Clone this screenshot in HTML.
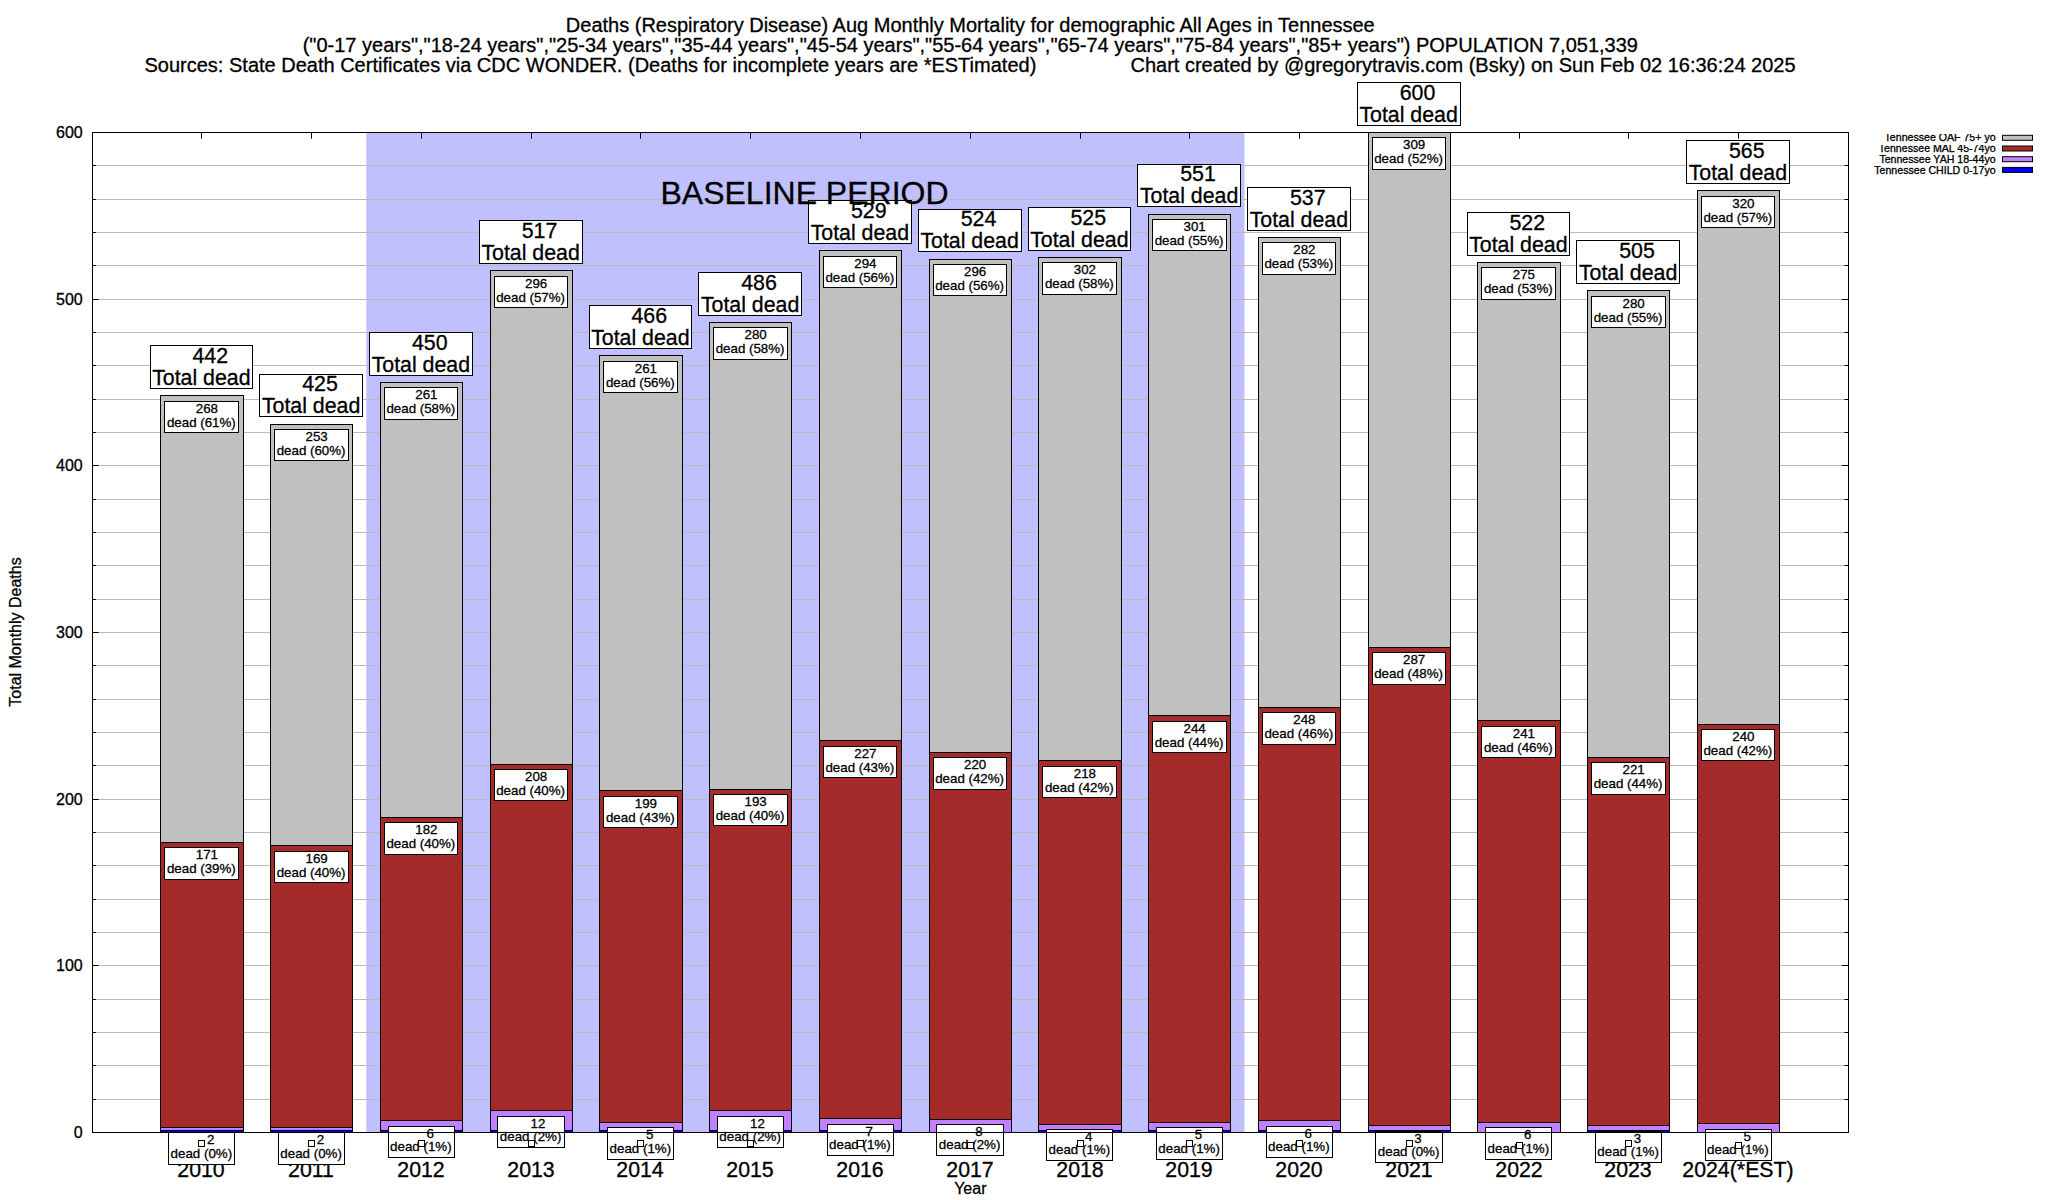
<!DOCTYPE html>
<html lang="en"><head><meta charset="utf-8"><title>Deaths (Respiratory Disease) Aug Monthly Mortality - Tennessee</title>
<style>html,body{margin:0;padding:0;background:#fff;}body{width:2048px;height:1200px;overflow:hidden;}svg{display:block;}text{font-family:"Liberation Sans", Arial, Helvetica, sans-serif;fill:#000;white-space:pre;stroke:#000;stroke-width:0.3px;}</style>
</head><body>
<svg width="2048" height="1200" viewBox="0 0 2048 1200" xml:space="preserve">
<rect x="0" y="0" width="2048" height="1200" fill="#fff"/>
<g font-size="20">
<text x="970.3" y="31.6" text-anchor="middle">Deaths (Respiratory Disease) Aug Monthly Mortality for demographic All Ages in Tennessee</text>
<text x="970.3" y="51.9" text-anchor="middle">("0-17 years","18-24 years","25-34 years","35-44 years","45-54 years","55-64 years","65-74 years","75-84 years","85+ years") POPULATION 7,051,339</text>
<text x="144.5" y="71.9">Sources: State Death Certificates via CDC WONDER. (Deaths for incomplete years are *ESTimated)</text>
<text x="1795.6" y="71.9" text-anchor="end">Chart created by @gregorytravis.com (Bsky) on Sun Feb 02 16:36:24 2025</text>
</g>
<rect x="366.3" y="132.5" width="878.2" height="1000" fill="#c0c0ff"/>
<g stroke="#bbbbbb" stroke-width="1">
<line x1="92.5" y1="1099.5" x2="1848.5" y2="1099.5"/>
<line x1="92.5" y1="1065.5" x2="1848.5" y2="1065.5"/>
<line x1="92.5" y1="1032.5" x2="1848.5" y2="1032.5"/>
<line x1="92.5" y1="999.5" x2="1848.5" y2="999.5"/>
<line x1="92.5" y1="965.5" x2="1848.5" y2="965.5"/>
<line x1="92.5" y1="932.5" x2="1848.5" y2="932.5"/>
<line x1="92.5" y1="899.5" x2="1848.5" y2="899.5"/>
<line x1="92.5" y1="865.5" x2="1848.5" y2="865.5"/>
<line x1="92.5" y1="832.5" x2="1848.5" y2="832.5"/>
<line x1="92.5" y1="799.5" x2="1848.5" y2="799.5"/>
<line x1="92.5" y1="765.5" x2="1848.5" y2="765.5"/>
<line x1="92.5" y1="732.5" x2="1848.5" y2="732.5"/>
<line x1="92.5" y1="699.5" x2="1848.5" y2="699.5"/>
<line x1="92.5" y1="665.5" x2="1848.5" y2="665.5"/>
<line x1="92.5" y1="632.5" x2="1848.5" y2="632.5"/>
<line x1="92.5" y1="599.5" x2="1848.5" y2="599.5"/>
<line x1="92.5" y1="565.5" x2="1848.5" y2="565.5"/>
<line x1="92.5" y1="532.5" x2="1848.5" y2="532.5"/>
<line x1="92.5" y1="499.5" x2="1848.5" y2="499.5"/>
<line x1="92.5" y1="465.5" x2="1848.5" y2="465.5"/>
<line x1="92.5" y1="432.5" x2="1848.5" y2="432.5"/>
<line x1="92.5" y1="399.5" x2="1848.5" y2="399.5"/>
<line x1="92.5" y1="365.5" x2="1848.5" y2="365.5"/>
<line x1="92.5" y1="332.5" x2="1848.5" y2="332.5"/>
<line x1="92.5" y1="299.5" x2="1848.5" y2="299.5"/>
<line x1="92.5" y1="265.5" x2="1848.5" y2="265.5"/>
<line x1="92.5" y1="232.5" x2="1848.5" y2="232.5"/>
<line x1="92.5" y1="199.5" x2="1848.5" y2="199.5"/>
<line x1="92.5" y1="165.5" x2="1848.5" y2="165.5"/>
</g>
<g stroke="#000" stroke-width="1" fill="none">
<line x1="92.5" y1="1099.5" x2="95.9" y2="1099.5"/>
<line x1="1848.5" y1="1099.5" x2="1844.5" y2="1099.5"/>
<line x1="92.5" y1="1065.5" x2="95.9" y2="1065.5"/>
<line x1="1848.5" y1="1065.5" x2="1844.5" y2="1065.5"/>
<line x1="92.5" y1="1032.5" x2="95.9" y2="1032.5"/>
<line x1="1848.5" y1="1032.5" x2="1844.5" y2="1032.5"/>
<line x1="92.5" y1="999.5" x2="95.9" y2="999.5"/>
<line x1="1848.5" y1="999.5" x2="1844.5" y2="999.5"/>
<line x1="92.5" y1="965.5" x2="98.7" y2="965.5"/>
<line x1="1848.5" y1="965.5" x2="1841.7" y2="965.5"/>
<line x1="92.5" y1="932.5" x2="95.9" y2="932.5"/>
<line x1="1848.5" y1="932.5" x2="1844.5" y2="932.5"/>
<line x1="92.5" y1="899.5" x2="95.9" y2="899.5"/>
<line x1="1848.5" y1="899.5" x2="1844.5" y2="899.5"/>
<line x1="92.5" y1="865.5" x2="95.9" y2="865.5"/>
<line x1="1848.5" y1="865.5" x2="1844.5" y2="865.5"/>
<line x1="92.5" y1="832.5" x2="95.9" y2="832.5"/>
<line x1="1848.5" y1="832.5" x2="1844.5" y2="832.5"/>
<line x1="92.5" y1="799.5" x2="98.7" y2="799.5"/>
<line x1="1848.5" y1="799.5" x2="1841.7" y2="799.5"/>
<line x1="92.5" y1="765.5" x2="95.9" y2="765.5"/>
<line x1="1848.5" y1="765.5" x2="1844.5" y2="765.5"/>
<line x1="92.5" y1="732.5" x2="95.9" y2="732.5"/>
<line x1="1848.5" y1="732.5" x2="1844.5" y2="732.5"/>
<line x1="92.5" y1="699.5" x2="95.9" y2="699.5"/>
<line x1="1848.5" y1="699.5" x2="1844.5" y2="699.5"/>
<line x1="92.5" y1="665.5" x2="95.9" y2="665.5"/>
<line x1="1848.5" y1="665.5" x2="1844.5" y2="665.5"/>
<line x1="92.5" y1="632.5" x2="98.7" y2="632.5"/>
<line x1="1848.5" y1="632.5" x2="1841.7" y2="632.5"/>
<line x1="92.5" y1="599.5" x2="95.9" y2="599.5"/>
<line x1="1848.5" y1="599.5" x2="1844.5" y2="599.5"/>
<line x1="92.5" y1="565.5" x2="95.9" y2="565.5"/>
<line x1="1848.5" y1="565.5" x2="1844.5" y2="565.5"/>
<line x1="92.5" y1="532.5" x2="95.9" y2="532.5"/>
<line x1="1848.5" y1="532.5" x2="1844.5" y2="532.5"/>
<line x1="92.5" y1="499.5" x2="95.9" y2="499.5"/>
<line x1="1848.5" y1="499.5" x2="1844.5" y2="499.5"/>
<line x1="92.5" y1="465.5" x2="98.7" y2="465.5"/>
<line x1="1848.5" y1="465.5" x2="1841.7" y2="465.5"/>
<line x1="92.5" y1="432.5" x2="95.9" y2="432.5"/>
<line x1="1848.5" y1="432.5" x2="1844.5" y2="432.5"/>
<line x1="92.5" y1="399.5" x2="95.9" y2="399.5"/>
<line x1="1848.5" y1="399.5" x2="1844.5" y2="399.5"/>
<line x1="92.5" y1="365.5" x2="95.9" y2="365.5"/>
<line x1="1848.5" y1="365.5" x2="1844.5" y2="365.5"/>
<line x1="92.5" y1="332.5" x2="95.9" y2="332.5"/>
<line x1="1848.5" y1="332.5" x2="1844.5" y2="332.5"/>
<line x1="92.5" y1="299.5" x2="98.7" y2="299.5"/>
<line x1="1848.5" y1="299.5" x2="1841.7" y2="299.5"/>
<line x1="92.5" y1="265.5" x2="95.9" y2="265.5"/>
<line x1="1848.5" y1="265.5" x2="1844.5" y2="265.5"/>
<line x1="92.5" y1="232.5" x2="95.9" y2="232.5"/>
<line x1="1848.5" y1="232.5" x2="1844.5" y2="232.5"/>
<line x1="92.5" y1="199.5" x2="95.9" y2="199.5"/>
<line x1="1848.5" y1="199.5" x2="1844.5" y2="199.5"/>
<line x1="92.5" y1="165.5" x2="95.9" y2="165.5"/>
<line x1="1848.5" y1="165.5" x2="1844.5" y2="165.5"/>
<line x1="201.5" y1="132.5" x2="201.5" y2="138.7"/>
<line x1="311.5" y1="132.5" x2="311.5" y2="138.7"/>
<line x1="421.5" y1="132.5" x2="421.5" y2="138.7"/>
<line x1="531.5" y1="132.5" x2="531.5" y2="138.7"/>
<line x1="640.5" y1="132.5" x2="640.5" y2="138.7"/>
<line x1="750.5" y1="132.5" x2="750.5" y2="138.7"/>
<line x1="860.5" y1="132.5" x2="860.5" y2="138.7"/>
<line x1="970.5" y1="132.5" x2="970.5" y2="138.7"/>
<line x1="1080.5" y1="132.5" x2="1080.5" y2="138.7"/>
<line x1="1189.5" y1="132.5" x2="1189.5" y2="138.7"/>
<line x1="1299.5" y1="132.5" x2="1299.5" y2="138.7"/>
<line x1="1409.5" y1="132.5" x2="1409.5" y2="138.7"/>
<line x1="1519.5" y1="132.5" x2="1519.5" y2="138.7"/>
<line x1="1628.5" y1="132.5" x2="1628.5" y2="138.7"/>
<line x1="1738.5" y1="132.5" x2="1738.5" y2="138.7"/>
</g>
<g font-size="16" text-anchor="end">
<text x="82.7" y="1138.2">0</text>
<text x="82.7" y="971.2">100</text>
<text x="82.7" y="805.2">200</text>
<text x="82.7" y="638.2">300</text>
<text x="82.7" y="471.2">400</text>
<text x="82.7" y="305.2">500</text>
<text x="82.7" y="138.2">600</text>
</g>
<g font-size="21.33" text-anchor="middle">
<text x="201" y="1177.1">2010</text>
<text x="311" y="1177.1">2011</text>
<text x="421" y="1177.1">2012</text>
<text x="531" y="1177.1">2013</text>
<text x="640" y="1177.1">2014</text>
<text x="750" y="1177.1">2015</text>
<text x="860" y="1177.1">2016</text>
<text x="970" y="1177.1">2017</text>
<text x="1080" y="1177.1">2018</text>
<text x="1189" y="1177.1">2019</text>
<text x="1299" y="1177.1">2020</text>
<text x="1409" y="1177.1">2021</text>
<text x="1519" y="1177.1">2022</text>
<text x="1628" y="1177.1">2023</text>
<text x="1738" y="1177.1">2024(*EST)</text>
</g>
<g stroke="#000" stroke-width="1">
<rect x="160.5" y="1130.5" width="83" height="2" fill="#0000ff"/>
<rect x="160.5" y="1127.5" width="83" height="3" fill="#c080ff"/>
<rect x="160.5" y="842.5" width="83" height="285" fill="#a52a2a"/>
<rect x="160.5" y="395.5" width="83" height="447" fill="#c0c0c0"/>
<rect x="270.5" y="1130.5" width="82" height="2" fill="#0000ff"/>
<rect x="270.5" y="1127.5" width="82" height="3" fill="#c080ff"/>
<rect x="270.5" y="845.5" width="82" height="282" fill="#a52a2a"/>
<rect x="270.5" y="424.5" width="82" height="421" fill="#c0c0c0"/>
<rect x="380.5" y="1130.5" width="82" height="2" fill="#0000ff"/>
<rect x="380.5" y="1120.5" width="82" height="10" fill="#c080ff"/>
<rect x="380.5" y="817.5" width="82" height="303" fill="#a52a2a"/>
<rect x="380.5" y="382.5" width="82" height="435" fill="#c0c0c0"/>
<rect x="490.5" y="1130.5" width="82" height="2" fill="#0000ff"/>
<rect x="490.5" y="1110.5" width="82" height="20" fill="#c080ff"/>
<rect x="490.5" y="764.5" width="82" height="346" fill="#a52a2a"/>
<rect x="490.5" y="270.5" width="82" height="494" fill="#c0c0c0"/>
<rect x="599.5" y="1130.5" width="83" height="2" fill="#0000ff"/>
<rect x="599.5" y="1122.5" width="83" height="8" fill="#c080ff"/>
<rect x="599.5" y="790.5" width="83" height="332" fill="#a52a2a"/>
<rect x="599.5" y="355.5" width="83" height="435" fill="#c0c0c0"/>
<rect x="709.5" y="1130.5" width="82" height="2" fill="#0000ff"/>
<rect x="709.5" y="1110.5" width="82" height="20" fill="#c080ff"/>
<rect x="709.5" y="789.5" width="82" height="321" fill="#a52a2a"/>
<rect x="709.5" y="322.5" width="82" height="467" fill="#c0c0c0"/>
<rect x="819.5" y="1130.5" width="82" height="2" fill="#0000ff"/>
<rect x="819.5" y="1118.5" width="82" height="12" fill="#c080ff"/>
<rect x="819.5" y="740.5" width="82" height="378" fill="#a52a2a"/>
<rect x="819.5" y="250.5" width="82" height="490" fill="#c0c0c0"/>
<rect x="929.5" y="1119.5" width="82" height="13" fill="#c080ff"/>
<rect x="929.5" y="752.5" width="82" height="367" fill="#a52a2a"/>
<rect x="929.5" y="259.5" width="82" height="493" fill="#c0c0c0"/>
<rect x="1038.5" y="1130.5" width="83" height="2" fill="#0000ff"/>
<rect x="1038.5" y="1124.5" width="83" height="6" fill="#c080ff"/>
<rect x="1038.5" y="760.5" width="83" height="364" fill="#a52a2a"/>
<rect x="1038.5" y="257.5" width="83" height="503" fill="#c0c0c0"/>
<rect x="1148.5" y="1130.5" width="82" height="2" fill="#0000ff"/>
<rect x="1148.5" y="1122.5" width="82" height="8" fill="#c080ff"/>
<rect x="1148.5" y="715.5" width="82" height="407" fill="#a52a2a"/>
<rect x="1148.5" y="214.5" width="82" height="501" fill="#c0c0c0"/>
<rect x="1258.5" y="1130.5" width="82" height="2" fill="#0000ff"/>
<rect x="1258.5" y="1120.5" width="82" height="10" fill="#c080ff"/>
<rect x="1258.5" y="707.5" width="82" height="413" fill="#a52a2a"/>
<rect x="1258.5" y="237.5" width="82" height="470" fill="#c0c0c0"/>
<rect x="1368.5" y="1130.5" width="82" height="2" fill="#0000ff"/>
<rect x="1368.5" y="1125.5" width="82" height="5" fill="#c080ff"/>
<rect x="1368.5" y="647.5" width="82" height="478" fill="#a52a2a"/>
<rect x="1368.5" y="132.5" width="82" height="515" fill="#c0c0c0"/>
<rect x="1477.5" y="1122.5" width="83" height="10" fill="#c080ff"/>
<rect x="1477.5" y="720.5" width="83" height="402" fill="#a52a2a"/>
<rect x="1477.5" y="262.5" width="83" height="458" fill="#c0c0c0"/>
<rect x="1587.5" y="1130.5" width="82" height="2" fill="#0000ff"/>
<rect x="1587.5" y="1125.5" width="82" height="5" fill="#c080ff"/>
<rect x="1587.5" y="757.5" width="82" height="368" fill="#a52a2a"/>
<rect x="1587.5" y="290.5" width="82" height="467" fill="#c0c0c0"/>
<rect x="1697.5" y="1123.5" width="82" height="9" fill="#c080ff"/>
<rect x="1697.5" y="724.5" width="82" height="399" fill="#a52a2a"/>
<rect x="1697.5" y="190.5" width="82" height="534" fill="#c0c0c0"/>
</g>
<rect x="164.5" y="401.5" width="74" height="31" fill="#fff" stroke="#000" stroke-width="1"/>
<text x="201.35" y="412.7" font-size="13.33" text-anchor="middle">   268</text>
<text x="201.35" y="426.6" font-size="13.33" text-anchor="middle">dead (61%)</text>
<rect x="274.5" y="429.5" width="74" height="31" fill="#fff" stroke="#000" stroke-width="1"/>
<text x="311.1" y="440.7" font-size="13.33" text-anchor="middle">   253</text>
<text x="311.1" y="454.6" font-size="13.33" text-anchor="middle">dead (60%)</text>
<rect x="384.5" y="387.5" width="73" height="32" fill="#fff" stroke="#000" stroke-width="1"/>
<text x="420.85" y="399.2" font-size="13.33" text-anchor="middle">   261</text>
<text x="420.85" y="413.1" font-size="13.33" text-anchor="middle">dead (58%)</text>
<rect x="494.5" y="276.5" width="73" height="31" fill="#fff" stroke="#000" stroke-width="1"/>
<text x="530.6" y="287.7" font-size="13.33" text-anchor="middle">   296</text>
<text x="530.6" y="301.6" font-size="13.33" text-anchor="middle">dead (57%)</text>
<rect x="603.5" y="361.5" width="74" height="31" fill="#fff" stroke="#000" stroke-width="1"/>
<text x="640.35" y="372.7" font-size="13.33" text-anchor="middle">   261</text>
<text x="640.35" y="386.6" font-size="13.33" text-anchor="middle">dead (56%)</text>
<rect x="713.5" y="327.5" width="74" height="32" fill="#fff" stroke="#000" stroke-width="1"/>
<text x="750.1" y="339.2" font-size="13.33" text-anchor="middle">   280</text>
<text x="750.1" y="353.1" font-size="13.33" text-anchor="middle">dead (58%)</text>
<rect x="823.5" y="256.5" width="73" height="31" fill="#fff" stroke="#000" stroke-width="1"/>
<text x="859.85" y="267.7" font-size="13.33" text-anchor="middle">   294</text>
<text x="859.85" y="281.6" font-size="13.33" text-anchor="middle">dead (56%)</text>
<rect x="933.5" y="264.5" width="73" height="31" fill="#fff" stroke="#000" stroke-width="1"/>
<text x="969.6" y="275.7" font-size="13.33" text-anchor="middle">   296</text>
<text x="969.6" y="289.6" font-size="13.33" text-anchor="middle">dead (56%)</text>
<rect x="1042.5" y="262.5" width="74" height="32" fill="#fff" stroke="#000" stroke-width="1"/>
<text x="1079.35" y="274.2" font-size="13.33" text-anchor="middle">   302</text>
<text x="1079.35" y="288.1" font-size="13.33" text-anchor="middle">dead (58%)</text>
<rect x="1152.5" y="219.5" width="74" height="31" fill="#fff" stroke="#000" stroke-width="1"/>
<text x="1189.1" y="230.7" font-size="13.33" text-anchor="middle">   301</text>
<text x="1189.1" y="244.6" font-size="13.33" text-anchor="middle">dead (55%)</text>
<rect x="1262.5" y="242.5" width="73" height="32" fill="#fff" stroke="#000" stroke-width="1"/>
<text x="1298.85" y="254.2" font-size="13.33" text-anchor="middle">   282</text>
<text x="1298.85" y="268.1" font-size="13.33" text-anchor="middle">dead (53%)</text>
<rect x="1372.5" y="137.5" width="73" height="32" fill="#fff" stroke="#000" stroke-width="1"/>
<text x="1408.6" y="149.2" font-size="13.33" text-anchor="middle">   309</text>
<text x="1408.6" y="163.1" font-size="13.33" text-anchor="middle">dead (52%)</text>
<rect x="1481.5" y="267.5" width="74" height="32" fill="#fff" stroke="#000" stroke-width="1"/>
<text x="1518.35" y="279.2" font-size="13.33" text-anchor="middle">   275</text>
<text x="1518.35" y="293.1" font-size="13.33" text-anchor="middle">dead (53%)</text>
<rect x="1591.5" y="296.5" width="74" height="31" fill="#fff" stroke="#000" stroke-width="1"/>
<text x="1628.1" y="307.7" font-size="13.33" text-anchor="middle">   280</text>
<text x="1628.1" y="321.6" font-size="13.33" text-anchor="middle">dead (55%)</text>
<rect x="1701.5" y="196.5" width="73" height="31" fill="#fff" stroke="#000" stroke-width="1"/>
<text x="1737.85" y="207.7" font-size="13.33" text-anchor="middle">   320</text>
<text x="1737.85" y="221.6" font-size="13.33" text-anchor="middle">dead (57%)</text>
<rect x="164.5" y="847.5" width="74" height="32" fill="#fff" stroke="#000" stroke-width="1"/>
<text x="201.35" y="859.2" font-size="13.33" text-anchor="middle">   171</text>
<text x="201.35" y="873.1" font-size="13.33" text-anchor="middle">dead (39%)</text>
<rect x="274.5" y="851.5" width="74" height="31" fill="#fff" stroke="#000" stroke-width="1"/>
<text x="311.1" y="862.7" font-size="13.33" text-anchor="middle">   169</text>
<text x="311.1" y="876.6" font-size="13.33" text-anchor="middle">dead (40%)</text>
<rect x="384.5" y="822.5" width="73" height="32" fill="#fff" stroke="#000" stroke-width="1"/>
<text x="420.85" y="834.2" font-size="13.33" text-anchor="middle">   182</text>
<text x="420.85" y="848.1" font-size="13.33" text-anchor="middle">dead (40%)</text>
<rect x="494.5" y="769.5" width="73" height="31" fill="#fff" stroke="#000" stroke-width="1"/>
<text x="530.6" y="780.7" font-size="13.33" text-anchor="middle">   208</text>
<text x="530.6" y="794.6" font-size="13.33" text-anchor="middle">dead (40%)</text>
<rect x="603.5" y="796.5" width="74" height="31" fill="#fff" stroke="#000" stroke-width="1"/>
<text x="640.35" y="807.7" font-size="13.33" text-anchor="middle">   199</text>
<text x="640.35" y="821.6" font-size="13.33" text-anchor="middle">dead (43%)</text>
<rect x="713.5" y="794.5" width="74" height="31" fill="#fff" stroke="#000" stroke-width="1"/>
<text x="750.1" y="805.7" font-size="13.33" text-anchor="middle">   193</text>
<text x="750.1" y="819.6" font-size="13.33" text-anchor="middle">dead (40%)</text>
<rect x="823.5" y="746.5" width="73" height="31" fill="#fff" stroke="#000" stroke-width="1"/>
<text x="859.85" y="757.7" font-size="13.33" text-anchor="middle">   227</text>
<text x="859.85" y="771.6" font-size="13.33" text-anchor="middle">dead (43%)</text>
<rect x="933.5" y="757.5" width="73" height="32" fill="#fff" stroke="#000" stroke-width="1"/>
<text x="969.6" y="769.2" font-size="13.33" text-anchor="middle">   220</text>
<text x="969.6" y="783.1" font-size="13.33" text-anchor="middle">dead (42%)</text>
<rect x="1042.5" y="766.5" width="74" height="31" fill="#fff" stroke="#000" stroke-width="1"/>
<text x="1079.35" y="777.7" font-size="13.33" text-anchor="middle">   218</text>
<text x="1079.35" y="791.6" font-size="13.33" text-anchor="middle">dead (42%)</text>
<rect x="1152.5" y="721.5" width="74" height="31" fill="#fff" stroke="#000" stroke-width="1"/>
<text x="1189.1" y="732.7" font-size="13.33" text-anchor="middle">   244</text>
<text x="1189.1" y="746.6" font-size="13.33" text-anchor="middle">dead (44%)</text>
<rect x="1262.5" y="712.5" width="73" height="32" fill="#fff" stroke="#000" stroke-width="1"/>
<text x="1298.85" y="724.2" font-size="13.33" text-anchor="middle">   248</text>
<text x="1298.85" y="738.1" font-size="13.33" text-anchor="middle">dead (46%)</text>
<rect x="1372.5" y="652.5" width="73" height="32" fill="#fff" stroke="#000" stroke-width="1"/>
<text x="1408.6" y="664.2" font-size="13.33" text-anchor="middle">   287</text>
<text x="1408.6" y="678.1" font-size="13.33" text-anchor="middle">dead (48%)</text>
<rect x="1481.5" y="726.5" width="74" height="31" fill="#fff" stroke="#000" stroke-width="1"/>
<text x="1518.35" y="737.7" font-size="13.33" text-anchor="middle">   241</text>
<text x="1518.35" y="751.6" font-size="13.33" text-anchor="middle">dead (46%)</text>
<rect x="1591.5" y="762.5" width="74" height="32" fill="#fff" stroke="#000" stroke-width="1"/>
<text x="1628.1" y="774.2" font-size="13.33" text-anchor="middle">   221</text>
<text x="1628.1" y="788.1" font-size="13.33" text-anchor="middle">dead (44%)</text>
<rect x="1701.5" y="729.5" width="73" height="31" fill="#fff" stroke="#000" stroke-width="1"/>
<text x="1737.85" y="740.7" font-size="13.33" text-anchor="middle">   240</text>
<text x="1737.85" y="754.6" font-size="13.33" text-anchor="middle">dead (42%)</text>
<rect x="168.5" y="1132.5" width="66" height="32" fill="#fff" stroke="#000" stroke-width="1"/>
<text x="201.35" y="1144" font-size="13.33" text-anchor="middle">     2</text>
<text x="201.35" y="1157.5" font-size="13.33" text-anchor="middle">dead (0%)</text>
<rect x="278.5" y="1132.5" width="66" height="32" fill="#fff" stroke="#000" stroke-width="1"/>
<text x="311.1" y="1144" font-size="13.33" text-anchor="middle">     2</text>
<text x="311.1" y="1157.5" font-size="13.33" text-anchor="middle">dead (0%)</text>
<rect x="388.5" y="1126.5" width="66" height="31" fill="#fff" stroke="#000" stroke-width="1"/>
<text x="420.85" y="1137.5" font-size="13.33" text-anchor="middle">     6</text>
<text x="420.85" y="1151" font-size="13.33" text-anchor="middle">dead (1%)</text>
<rect x="497.5" y="1116.5" width="67" height="31" fill="#fff" stroke="#000" stroke-width="1"/>
<text x="530.6" y="1127.5" font-size="13.33" text-anchor="middle">    12</text>
<text x="530.6" y="1141" font-size="13.33" text-anchor="middle">dead (2%)</text>
<rect x="607.5" y="1127.5" width="66" height="32" fill="#fff" stroke="#000" stroke-width="1"/>
<text x="640.35" y="1139" font-size="13.33" text-anchor="middle">     5</text>
<text x="640.35" y="1152.5" font-size="13.33" text-anchor="middle">dead (1%)</text>
<rect x="717.5" y="1116.5" width="66" height="31" fill="#fff" stroke="#000" stroke-width="1"/>
<text x="750.1" y="1127.5" font-size="13.33" text-anchor="middle">    12</text>
<text x="750.1" y="1141" font-size="13.33" text-anchor="middle">dead (2%)</text>
<rect x="827.5" y="1124.5" width="66" height="31" fill="#fff" stroke="#000" stroke-width="1"/>
<text x="859.85" y="1135.5" font-size="13.33" text-anchor="middle">     7</text>
<text x="859.85" y="1149" font-size="13.33" text-anchor="middle">dead (1%)</text>
<rect x="936.5" y="1124.5" width="67" height="31" fill="#fff" stroke="#000" stroke-width="1"/>
<text x="969.6" y="1135.5" font-size="13.33" text-anchor="middle">     8</text>
<text x="969.6" y="1149" font-size="13.33" text-anchor="middle">dead (2%)</text>
<rect x="1046.5" y="1129.5" width="66" height="31" fill="#fff" stroke="#000" stroke-width="1"/>
<text x="1079.35" y="1140.5" font-size="13.33" text-anchor="middle">     4</text>
<text x="1079.35" y="1154" font-size="13.33" text-anchor="middle">dead (1%)</text>
<rect x="1156.5" y="1127.5" width="66" height="32" fill="#fff" stroke="#000" stroke-width="1"/>
<text x="1189.1" y="1139" font-size="13.33" text-anchor="middle">     5</text>
<text x="1189.1" y="1152.5" font-size="13.33" text-anchor="middle">dead (1%)</text>
<rect x="1266.5" y="1126.5" width="66" height="31" fill="#fff" stroke="#000" stroke-width="1"/>
<text x="1298.85" y="1137.5" font-size="13.33" text-anchor="middle">     6</text>
<text x="1298.85" y="1151" font-size="13.33" text-anchor="middle">dead (1%)</text>
<rect x="1375.5" y="1131.5" width="67" height="31" fill="#fff" stroke="#000" stroke-width="1"/>
<text x="1408.6" y="1142.5" font-size="13.33" text-anchor="middle">     3</text>
<text x="1408.6" y="1156" font-size="13.33" text-anchor="middle">dead (0%)</text>
<rect x="1485.5" y="1127.5" width="66" height="32" fill="#fff" stroke="#000" stroke-width="1"/>
<text x="1518.35" y="1139" font-size="13.33" text-anchor="middle">     6</text>
<text x="1518.35" y="1152.5" font-size="13.33" text-anchor="middle">dead (1%)</text>
<rect x="1595.5" y="1131.5" width="66" height="31" fill="#fff" stroke="#000" stroke-width="1"/>
<text x="1628.1" y="1142.5" font-size="13.33" text-anchor="middle">     3</text>
<text x="1628.1" y="1156" font-size="13.33" text-anchor="middle">dead (1%)</text>
<rect x="1705.5" y="1129.5" width="66" height="31" fill="#fff" stroke="#000" stroke-width="1"/>
<text x="1737.85" y="1140.5" font-size="13.33" text-anchor="middle">     5</text>
<text x="1737.85" y="1154" font-size="13.33" text-anchor="middle">dead (1%)</text>
<rect x="198.5" y="1140.5" width="6" height="6" fill="#fff" stroke="#000" stroke-width="1"/>
<rect x="308.5" y="1140.5" width="6" height="6" fill="#fff" stroke="#000" stroke-width="1"/>
<rect x="418.5" y="1140.5" width="6" height="6" fill="#fff" stroke="#000" stroke-width="1"/>
<rect x="528.5" y="1140.5" width="6" height="6" fill="#fff" stroke="#000" stroke-width="1"/>
<rect x="637.5" y="1140.5" width="6" height="6" fill="#fff" stroke="#000" stroke-width="1"/>
<rect x="747.5" y="1140.5" width="6" height="6" fill="#fff" stroke="#000" stroke-width="1"/>
<rect x="857.5" y="1140.5" width="6" height="6" fill="#fff" stroke="#000" stroke-width="1"/>
<rect x="967.5" y="1142.5" width="6" height="6" fill="#fff" stroke="#000" stroke-width="1"/>
<rect x="1077.5" y="1140.5" width="6" height="6" fill="#fff" stroke="#000" stroke-width="1"/>
<rect x="1186.5" y="1140.5" width="6" height="6" fill="#fff" stroke="#000" stroke-width="1"/>
<rect x="1296.5" y="1140.5" width="6" height="6" fill="#fff" stroke="#000" stroke-width="1"/>
<rect x="1406.5" y="1140.5" width="6" height="6" fill="#fff" stroke="#000" stroke-width="1"/>
<rect x="1516.5" y="1142.5" width="6" height="6" fill="#fff" stroke="#000" stroke-width="1"/>
<rect x="1625.5" y="1140.5" width="6" height="6" fill="#fff" stroke="#000" stroke-width="1"/>
<rect x="1735.5" y="1142.5" width="6" height="6" fill="#fff" stroke="#000" stroke-width="1"/>
<rect x="150.5" y="345.5" width="102" height="43" fill="#fff" stroke="#000" stroke-width="1"/>
<text x="201.35" y="362.6" font-size="21.33" text-anchor="middle">   442</text>
<text x="201.35" y="384.7" font-size="21.33" text-anchor="middle">Total dead</text>
<rect x="259.5" y="374.5" width="103" height="42" fill="#fff" stroke="#000" stroke-width="1"/>
<text x="311.1" y="391.1" font-size="21.33" text-anchor="middle">   425</text>
<text x="311.1" y="413.2" font-size="21.33" text-anchor="middle">Total dead</text>
<rect x="369.5" y="332.5" width="103" height="43" fill="#fff" stroke="#000" stroke-width="1"/>
<text x="420.85" y="349.6" font-size="21.33" text-anchor="middle">   450</text>
<text x="420.85" y="371.7" font-size="21.33" text-anchor="middle">Total dead</text>
<rect x="479.5" y="220.5" width="103" height="43" fill="#fff" stroke="#000" stroke-width="1"/>
<text x="530.6" y="237.6" font-size="21.33" text-anchor="middle">   517</text>
<text x="530.6" y="259.7" font-size="21.33" text-anchor="middle">Total dead</text>
<rect x="589.5" y="305.5" width="102" height="43" fill="#fff" stroke="#000" stroke-width="1"/>
<text x="640.35" y="322.6" font-size="21.33" text-anchor="middle">   466</text>
<text x="640.35" y="344.7" font-size="21.33" text-anchor="middle">Total dead</text>
<rect x="698.5" y="272.5" width="103" height="43" fill="#fff" stroke="#000" stroke-width="1"/>
<text x="750.1" y="289.6" font-size="21.33" text-anchor="middle">   486</text>
<text x="750.1" y="311.7" font-size="21.33" text-anchor="middle">Total dead</text>
<rect x="808.5" y="200.5" width="103" height="43" fill="#fff" stroke="#000" stroke-width="1"/>
<text x="859.85" y="217.6" font-size="21.33" text-anchor="middle">   529</text>
<text x="859.85" y="239.7" font-size="21.33" text-anchor="middle">Total dead</text>
<rect x="918.5" y="209.5" width="103" height="42" fill="#fff" stroke="#000" stroke-width="1"/>
<text x="969.6" y="226.1" font-size="21.33" text-anchor="middle">   524</text>
<text x="969.6" y="248.2" font-size="21.33" text-anchor="middle">Total dead</text>
<rect x="1028.5" y="207.5" width="102" height="43" fill="#fff" stroke="#000" stroke-width="1"/>
<text x="1079.35" y="224.6" font-size="21.33" text-anchor="middle">   525</text>
<text x="1079.35" y="246.7" font-size="21.33" text-anchor="middle">Total dead</text>
<rect x="1137.5" y="164.5" width="103" height="42" fill="#fff" stroke="#000" stroke-width="1"/>
<text x="1189.1" y="181.1" font-size="21.33" text-anchor="middle">   551</text>
<text x="1189.1" y="203.2" font-size="21.33" text-anchor="middle">Total dead</text>
<rect x="1247.5" y="187.5" width="103" height="43" fill="#fff" stroke="#000" stroke-width="1"/>
<text x="1298.85" y="204.6" font-size="21.33" text-anchor="middle">   537</text>
<text x="1298.85" y="226.7" font-size="21.33" text-anchor="middle">Total dead</text>
<rect x="1357.5" y="82.5" width="103" height="43" fill="#fff" stroke="#000" stroke-width="1"/>
<text x="1408.6" y="99.6" font-size="21.33" text-anchor="middle">   600</text>
<text x="1408.6" y="121.7" font-size="21.33" text-anchor="middle">Total dead</text>
<rect x="1467.5" y="212.5" width="102" height="43" fill="#fff" stroke="#000" stroke-width="1"/>
<text x="1518.35" y="229.6" font-size="21.33" text-anchor="middle">   522</text>
<text x="1518.35" y="251.7" font-size="21.33" text-anchor="middle">Total dead</text>
<rect x="1576.5" y="240.5" width="103" height="43" fill="#fff" stroke="#000" stroke-width="1"/>
<text x="1628.1" y="257.6" font-size="21.33" text-anchor="middle">   505</text>
<text x="1628.1" y="279.7" font-size="21.33" text-anchor="middle">Total dead</text>
<rect x="1686.5" y="140.5" width="103" height="43" fill="#fff" stroke="#000" stroke-width="1"/>
<text x="1737.85" y="157.6" font-size="21.33" text-anchor="middle">   565</text>
<text x="1737.85" y="179.7" font-size="21.33" text-anchor="middle">Total dead</text>
<text x="804.5" y="203.6" font-size="32" text-anchor="middle">BASELINE PERIOD</text>
<rect x="92.5" y="132.5" width="1756" height="1000" fill="none" stroke="#000" stroke-width="1"/>
<text x="970.3" y="1194" font-size="16" text-anchor="middle">Year</text>
<text transform="translate(21,632) rotate(-90)" font-size="16" text-anchor="middle">Total Monthly Deaths</text>
<defs>
<clipPath id="lc0"><rect x="1860" y="134" width="140" height="14"/></clipPath>
<clipPath id="lc1"><rect x="1860" y="145.1" width="140" height="14"/></clipPath>
<clipPath id="lc2"><rect x="1860" y="154.8" width="140" height="14"/></clipPath>
<clipPath id="lc3"><rect x="1860" y="166" width="140" height="14"/></clipPath>
</defs>
<text x="1995.6" y="141.4" font-size="10.6" text-anchor="end" clip-path="url(#lc0)">Tennessee OAF 75+ yo</text>
<rect x="2002.5" y="135.3" width="30" height="5" fill="#c0c0c0" stroke="#000" stroke-width="1"/>
<text x="1995.6" y="152.1" font-size="10.6" text-anchor="end" clip-path="url(#lc1)">Tennessee MAL 45-74yo</text>
<rect x="2002.5" y="146" width="30" height="5" fill="#a52a2a" stroke="#000" stroke-width="1"/>
<text x="1995.6" y="162.8" font-size="10.6" text-anchor="end" clip-path="url(#lc2)">Tennessee YAH 18-44yo</text>
<rect x="2002.5" y="156.7" width="30" height="5" fill="#c080ff" stroke="#000" stroke-width="1"/>
<text x="1995.6" y="173.5" font-size="10.6" text-anchor="end" clip-path="url(#lc3)">Tennessee CHILD 0-17yo</text>
<rect x="2002.5" y="167.4" width="30" height="5" fill="#0000ff" stroke="#000" stroke-width="1"/>
</svg>
</body></html>
